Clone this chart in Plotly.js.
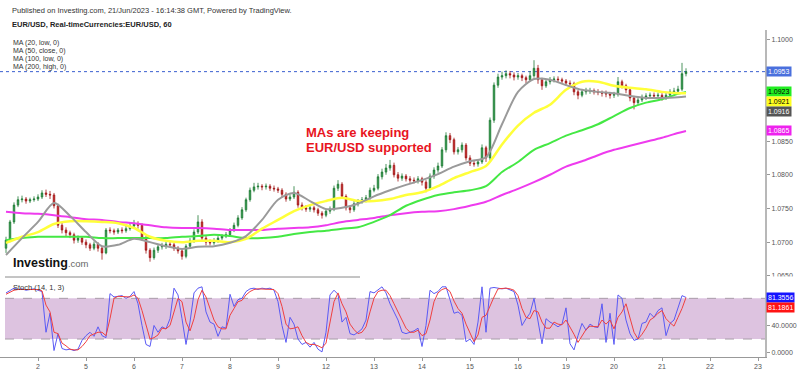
<!DOCTYPE html>
<html><head><meta charset="utf-8">
<script src="https://cdn.plot.ly/plotly-3.0.1.min.js"></script>
<style>html,body{margin:0;padding:0;background:#fff}#chart{width:800px;height:371px}</style>
</head><body><div id="chart"></div>
<script>
// ---- data (EUR/USD, 2-hour samples of the hourly chart) ----
const dayLabels = ['2','5','6','7','8','9','12','13','14','15','16','19','20','21','22','23'];
// 1.0900 and 1.0950 are hidden behind the last-value labels in the reference
const priceTicks = [1.0650, 1.0700, 1.0750, 1.0800, 1.0850, 1.1000];
const stochTicks = [0, 40];
const firstOpen = 1.0691;
const closes = [
1.0703,1.0730,1.0755,1.0763,1.0764,1.0761,1.0763,1.0764,1.0767,1.0773,
1.0771,1.0770,1.0754,1.0725,1.0718,1.0714,1.0711,1.0703,1.0706,1.0700,
1.0696,1.0691,1.0697,1.0691,1.0684,1.0718,1.0717,1.0715,1.0718,1.0717,
1.0720,1.0724,1.0727,1.0725,1.0706,1.0688,1.0677,1.0688,1.0693,1.0694,
1.0697,1.0696,1.0691,1.0687,1.0679,1.0694,1.0702,1.0715,1.0730,1.0706,
1.0700,1.0699,1.0702,1.0706,1.0709,1.0711,1.0718,1.0725,1.0736,1.0748,
1.0763,1.0777,1.0782,1.0783,1.0782,1.0783,1.0780,1.0779,1.0777,1.0771,
1.0764,1.0767,1.0774,1.0755,1.0751,1.0749,1.0751,1.0748,1.0743,1.0740,
1.0746,1.0749,1.0780,1.0786,1.0768,1.0751,1.0748,1.0757,1.0760,1.0763,
1.0766,1.0777,1.0780,1.0797,1.0804,1.0810,1.0814,1.0800,1.0795,1.0798,
1.0794,1.0792,1.0791,1.0794,1.0789,1.0780,1.0798,1.0807,1.0813,1.0837,
1.0858,1.0852,1.0834,1.0837,1.0844,1.0825,1.0817,1.0816,1.0819,1.0840,
1.0825,1.0881,1.0933,1.0945,1.0947,1.0950,1.0948,1.0945,1.0947,1.0944,
1.0941,1.0947,1.0958,1.0941,1.0932,1.0938,1.0941,1.0942,1.0941,1.0939,
1.0936,1.0935,1.0923,1.0918,1.0923,1.0924,1.0925,1.0923,1.0922,1.0921,
1.0920,1.0918,1.0919,1.0938,1.0932,1.0926,1.0914,1.0907,1.0911,1.0915,
1.0917,1.0918,1.0917,1.0918,1.0915,1.0918,1.0923,1.0924,1.0927,1.0950,
1.0953];
const highs = [
1.0708,1.0733,1.0759,1.0768,1.0769,1.0767,1.0766,1.0768,1.0771,1.0777,
1.0778,1.0776,1.0773,1.0757,1.0729,1.0722,1.0717,1.0714,1.0710,1.0709,
1.0704,1.0699,1.0701,1.0700,1.0694,1.0721,1.0722,1.0720,1.0721,1.0722,
1.0724,1.0729,1.0733,1.0731,1.0728,1.0709,1.0691,1.0692,1.0697,1.0699,
1.0701,1.0702,1.0699,1.0694,1.0690,1.0697,1.0706,1.0719,1.0740,1.0734,
1.0709,1.0704,1.0706,1.0709,1.0712,1.0715,1.0721,1.0729,1.0740,1.0752,
1.0766,1.0781,1.0788,1.0788,1.0786,1.0787,1.0786,1.0784,1.0782,1.0780,
1.0774,1.0771,1.0783,1.0777,1.0759,1.0755,1.0755,1.0754,1.0751,1.0746,
1.0750,1.0753,1.0784,1.0792,1.0789,1.0771,1.0755,1.0761,1.0764,1.0767,
1.0770,1.0781,1.0785,1.0801,1.0809,1.0816,1.0822,1.0818,1.0804,1.0802,
1.0801,1.0798,1.0796,1.0798,1.0797,1.0792,1.0802,1.0811,1.0818,1.0841,
1.0863,1.0862,1.0855,1.0841,1.0848,1.0847,1.0829,1.0822,1.0823,1.0845,
1.0843,1.0885,1.0937,1.0950,1.0953,1.0955,1.0954,1.0952,1.0951,1.0950,
1.0947,1.0954,1.0970,1.0963,1.0944,1.0942,1.0945,1.0946,1.0946,1.0944,
1.0942,1.0940,1.0938,1.0926,1.0927,1.0929,1.0929,1.0928,1.0927,1.0925,
1.0925,1.0923,1.0923,1.0945,1.0941,1.0935,1.0929,1.0917,1.0915,1.0919,
1.0921,1.0922,1.0922,1.0922,1.0921,1.0922,1.0927,1.0929,1.0932,1.0966,
1.0958];
const lows = [
1.0684,1.0700,1.0727,1.0752,1.0759,1.0757,1.0758,1.0760,1.0761,1.0764,
1.0767,1.0764,1.0750,1.0721,1.0713,1.0709,1.0706,1.0698,1.0699,1.0696,
1.0691,1.0687,1.0688,1.0686,1.0674,1.0682,1.0713,1.0711,1.0712,1.0713,
1.0714,1.0717,1.0720,1.0720,1.0702,1.0683,1.0671,1.0674,1.0684,1.0689,
1.0690,1.0692,1.0687,1.0683,1.0674,1.0676,1.0690,1.0699,1.0712,1.0702,
1.0695,1.0695,1.0696,1.0699,1.0703,1.0706,1.0708,1.0715,1.0722,1.0733,
1.0745,1.0760,1.0774,1.0778,1.0777,1.0778,1.0776,1.0775,1.0773,1.0766,
1.0760,1.0761,1.0764,1.0751,1.0747,1.0745,1.0745,1.0744,1.0739,1.0735,
1.0737,1.0742,1.0746,1.0776,1.0764,1.0747,1.0743,1.0745,1.0753,1.0757,
1.0759,1.0763,1.0774,1.0777,1.0793,1.0800,1.0806,1.0796,1.0790,1.0791,
1.0790,1.0788,1.0787,1.0787,1.0784,1.0774,1.0777,1.0794,1.0803,1.0810,
1.0833,1.0847,1.0830,1.0830,1.0833,1.0821,1.0813,1.0812,1.0812,1.0816,
1.0819,1.0821,1.0877,1.0929,1.0941,1.0943,1.0943,1.0940,1.0941,1.0939,
1.0936,1.0938,1.0944,1.0935,1.0926,1.0929,1.0934,1.0937,1.0937,1.0935,
1.0932,1.0930,1.0918,1.0912,1.0915,1.0919,1.0920,1.0919,1.0918,1.0916,
1.0915,1.0913,1.0914,1.0916,1.0928,1.0921,1.0909,1.0897,1.0903,1.0908,
1.0911,1.0913,1.0913,1.0913,1.0910,1.0911,1.0915,1.0919,1.0920,1.0924,
1.0946];
// moving averages, sampled every 8 hours
const ma20Low = [1.0681,1.0706,1.0730,1.0758,1.0739,1.0715,1.0694,1.0696,1.0705,1.0700,1.0694,1.0690,1.0693,1.0694,1.0699,1.0709,1.0733,1.0763,1.0773,1.0761,1.0749,1.0751,1.0757,1.0768,1.0777,1.0785,1.0792,1.0801,1.0812,1.0820,1.0826,1.0875,1.0923,1.0942,1.0941,1.0933,1.0926,1.0923,1.0921,1.0917,1.0914,1.0914,1.0915,1.0916];
const ma50Close = [1.0699,1.0708,1.0715,1.0727,1.0731,1.0731,1.0730,1.0728,1.0721,1.0708,1.0702,1.0700,1.0702,1.0702,1.0700,1.0705,1.0720,1.0733,1.0746,1.0755,1.0761,1.0766,1.0761,1.0761,1.0764,1.0770,1.0774,1.0783,1.0795,1.0804,1.0813,1.0845,1.0873,1.0892,1.0904,1.0926,1.0938,1.0938,1.0932,1.0929,1.0927,1.0923,1.0921,1.0921];
const ma100Low = [1.0703,1.0706,1.0708,1.0708,1.0708,1.0708,1.0706,1.0706,1.0706,1.0706,1.0706,1.0708,1.0709,1.0711,1.0709,1.0706,1.0706,1.0708,1.0712,1.0715,1.0717,1.0720,1.0722,1.0730,1.0740,1.0754,1.0763,1.0770,1.0774,1.0777,1.0783,1.0804,1.0819,1.0837,1.0847,1.0858,1.0866,1.0875,1.0887,1.0899,1.0907,1.0912,1.0920,1.0923];
const ma200High = [1.0745,1.0743,1.0742,1.0740,1.0737,1.0734,1.0733,1.0730,1.0728,1.0725,1.0722,1.0721,1.0721,1.0720,1.0718,1.0718,1.0718,1.0720,1.0721,1.0722,1.0725,1.0730,1.0733,1.0736,1.0740,1.0743,1.0745,1.0746,1.0749,1.0754,1.0760,1.0770,1.0779,1.0789,1.0800,1.0812,1.0820,1.0829,1.0837,1.0843,1.0849,1.0855,1.0862,1.0865];
const stochK = [
88,92,95,93,94,92,93,94,92,90,
30,58,3,28,6,4,5,3,5,18,
25,30,24,38,25,22,87,82,83,84,
80,83,90,72,40,12,9,40,30,38,
35,50,95,85,50,12,45,88,95,97,
60,45,42,24,38,36,86,68,78,80,
90,94,95,93,95,94,95,92,75,40,
15,52,42,20,12,15,8,15,5,1,
30,85,92,86,45,52,28,26,30,35,
48,90,88,93,97,88,72,60,48,30,
28,30,32,36,9,40,92,87,90,97,
97,78,58,60,55,16,20,12,45,97,
30,95,96,95,94,95,93,90,70,40,
50,58,80,45,13,50,45,42,38,42,
66,13,4,25,43,33,42,38,37,72,
15,58,12,85,80,48,28,18,20,43,
45,58,52,62,66,25,43,48,65,84,
81.3556];
const stochD = [
86,89,92,93,93,93,93,93,93,91,
70,60,30,28,14,10,5,4,4,9,
16,25,27,30,30,25,50,80,83,83,
82,82,85,80,62,40,20,22,26,36,
35,40,62,80,75,45,32,50,78,92,
82,65,48,38,35,35,55,65,75,77,
85,90,93,94,94,94,94,93,87,68,
42,35,36,38,25,15,12,12,10,7,
14,45,75,88,72,60,42,34,28,30,
38,60,80,90,92,92,84,72,60,46,
36,30,30,33,25,28,48,75,88,93,
95,90,76,65,58,42,30,16,26,52,
55,70,82,94,95,95,94,92,84,65,
52,50,62,60,45,36,36,45,42,41,
48,38,27,15,24,34,39,38,38,48,
42,48,35,52,60,72,52,30,20,27,
36,48,52,58,62,50,44,39,52,65,
81.1861];

// ---- build ----
const N = closes.length;
const candleX = closes.map((_, i) => 8 + 2 * i);          // hour index
const opens = closes.map((c, i) => i === 0 ? firstOpen : closes[i - 1]);
const maX = ma20Low.map((_, i) => i < ma20Low.length - 1 ? 8 + 8 * i : candleX[N - 1]);
const dayTicks = dayLabels.map((_, i) => 24 * (i + 1));
const last = a => a[a.length - 1];

const W = 800, H = 371;
const px = x => x / W, py = y => 1 - y / H;
const FONT = 'Liberation Sans, Arial, sans-serif';
const PLOT_R = 765;

function maTrace(y, color, width) {
  return {type: 'scatter', mode: 'lines', x: maX, y: y, xaxis: 'x', yaxis: 'y',
    line: {color: color, width: width, shape: 'spline', smoothing: 0.8}, hoverinfo: 'skip'};
}
const traces = [
  maTrace(ma200High, '#ee3bee', 2),
  maTrace(ma100Low, '#44e844', 2),
  maTrace(ma50Close, '#ffff3a', 2.5),
  maTrace(ma20Low, '#9a9a9a', 2),
  {type: 'candlestick', x: candleX, open: opens, high: highs, low: lows, close: closes,
   xaxis: 'x', yaxis: 'y', whiskerwidth: 0, hoverinfo: 'skip',
   increasing: {line: {color: '#1f7a35', width: 0.8}, fillcolor: '#2a9a48'},
   decreasing: {line: {color: '#a01818', width: 0.8}, fillcolor: '#c82020'}},
  {type: 'scatter', mode: 'lines', x: candleX, y: stochK, xaxis: 'x', yaxis: 'y2',
   line: {color: '#5a5af5', width: 1}, hoverinfo: 'skip'},
  {type: 'scatter', mode: 'lines', x: candleX, y: stochD, xaxis: 'x', yaxis: 'y2',
   line: {color: '#f04040', width: 1}, hoverinfo: 'skip'}
];

function txt(x, y, text, size, color, extra) {
  return Object.assign({xref: 'paper', yref: 'paper', x: px(x), y: py(y), text: text,
    showarrow: false, xanchor: 'left', yanchor: 'middle',
    font: {family: FONT, size: size, color: color}}, extra || {});
}
const annotations = [
  txt(10, 10, 'Published on Investing.com, 21/Jun/2023 - 16:14:38 GMT, Powered by TradingView.', 7.5, '#333'),
  txt(10, 25, '<b>EUR/USD, Real-timeCurrencies:EUR/USD, 60</b>', 7.5, '#222'),
  txt(11, 43, 'MA (20, low, 0)', 7, '#333'),
  txt(11, 51, 'MA (50, close, 0)', 7, '#333'),
  txt(11, 59, 'MA (100, low, 0)', 7, '#333'),
  txt(11, 67, 'MA (200, high, 0)', 7, '#333'),
  txt(304, 132, '<b>MAs are keeping</b>', 13, '#e8141e'),
  txt(304, 147, '<b>EUR/USD supported</b>', 13, '#e8141e'),
  txt(11, 263, '<b>Investing</b><span style="font-size:9.5px;color:#666">.com</span>', 12.5, '#111'),
  txt(11, 287, 'Stoch (14, 1, 3)', 7.5, '#333')
];
const rightLabels = [
  {v: last(closes), bg: '#4a70dd', fc: '#fff', shift: 0, ax: 'y'},
  {v: last(ma100Low), bg: '#22ee22', fc: '#000', shift: 0, ax: 'y'},
  {v: last(ma50Close), bg: '#ffff22', fc: '#000', shift: -8, ax: 'y'},
  {v: last(ma20Low), bg: '#555555', fc: '#fff', shift: -15, ax: 'y'},
  {v: last(ma200High), bg: '#ee22ee', fc: '#fff', shift: 0, ax: 'y'},
  {v: last(stochK), bg: '#1414ff', fc: '#fff', shift: 0, ax: 'y2'},
  {v: last(stochD), bg: '#ff1414', fc: '#fff', shift: -10, ax: 'y2'}
];
rightLabels.forEach(l => annotations.push({
  xref: 'paper', yref: l.ax, x: px(PLOT_R + 1), y: l.v, yshift: l.shift,
  text: l.v.toFixed(4), showarrow: false, xanchor: 'left', yanchor: 'middle',
  bgcolor: l.bg, borderpad: 1, font: {family: FONT, size: 7, color: l.fc}
}));

const shapes = [
  {type: 'rect', xref: 'paper', yref: 'y2', x0: px(5), x1: px(PLOT_R), y0: 20, y1: 80,
   fillcolor: '#ddc3e0', line: {width: 0}, layer: 'below'},
  {type: 'line', xref: 'paper', yref: 'y2', x0: px(5), x1: px(PLOT_R), y0: 80, y1: 80,
   line: {color: '#a99ca9', width: 1, dash: 'dash'}, layer: 'below'},
  {type: 'line', xref: 'paper', yref: 'y2', x0: px(5), x1: px(PLOT_R), y0: 20, y1: 20,
   line: {color: '#a99ca9', width: 1, dash: 'dash'}, layer: 'below'},
  {type: 'line', xref: 'paper', yref: 'y', x0: 0, x1: px(PLOT_R), y0: last(closes), y1: last(closes),
   line: {color: '#3a5fd0', width: 1, dash: 'dot'}, layer: 'below'},
  {type: 'line', xref: 'paper', yref: 'paper', x0: px(5), x1: px(360), y0: py(277), y1: py(277),
   line: {color: '#8a8a8a', width: 1}},
  {type: 'rect', xref: 'paper', yref: 'paper', x0: px(767), x1: 1, y0: py(283), y1: py(276.6),
   fillcolor: '#ffffff', line: {width: 0}, layer: 'above'}
];

const axisFont = {family: FONT, size: 7, color: '#555'};
const layout = {
  width: W, height: H, margin: {l: 0, r: 0, t: 0, b: 0},
  paper_bgcolor: '#fff', plot_bgcolor: 'rgba(0,0,0,0)', showlegend: false,
  boxgap: 0.45,
  xaxis: {domain: [0, px(PLOT_R)], range: [5, 387.5], anchor: 'y2',
    tickvals: dayTicks, ticktext: dayLabels, tickfont: axisFont,
    showgrid: false, zeroline: false, showline: true, linecolor: '#999', linewidth: 1,
    ticks: 'outside', ticklen: 3, tickcolor: '#999', rangeslider: {visible: false}, fixedrange: true},
  yaxis: {domain: [py(278), py(30)], range: [1.06468, 1.10148], anchor: 'x', side: 'right',
    tickvals: priceTicks, tickformat: '.4f', tickfont: axisFont,
    showgrid: false, zeroline: false, showline: true, linecolor: '#b8b8b8', linewidth: 2,
    ticks: 'outside', ticklen: 3, tickcolor: '#999', fixedrange: true},
  yaxis2: {domain: [py(357), py(278)], range: [-6.5, 110], anchor: 'x', side: 'right',
    tickvals: stochTicks, tickformat: '.4f', tickfont: axisFont,
    showgrid: false, zeroline: false, showline: true, linecolor: '#b8b8b8', linewidth: 2,
    ticks: 'outside', ticklen: 3, tickcolor: '#999', fixedrange: true},
  annotations: annotations, shapes: shapes
};
Plotly.newPlot('chart', traces, layout, {staticPlot: true, displayModeBar: false});
</script></body></html>
